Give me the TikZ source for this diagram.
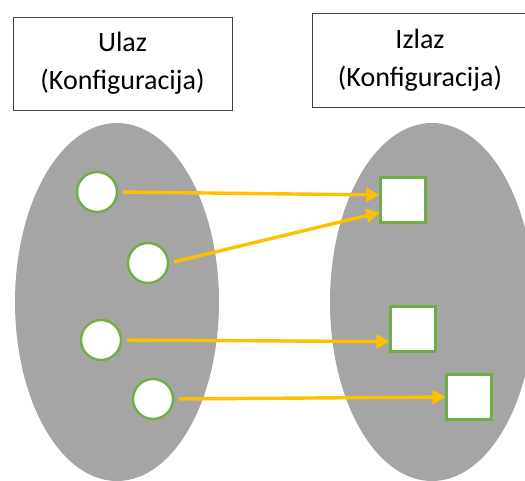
\documentclass[tikz,border=0pt]{standalone}
\usepackage{fontspec}
\setmainfont{Carlito}
\usetikzlibrary{arrows.meta}
\definecolor{siva}{RGB}{165,165,165}
\definecolor{zelena}{RGB}{112,173,71}
\definecolor{strelica}{RGB}{255,192,0}

\begin{document}
\begin{tikzpicture}[x=1pt, y=-1pt,
    okvir/.style={draw=black!75, thin, minimum width=219pt, minimum height=93pt, align=center, inner sep=0pt, font=\fontsize{28}{38}\selectfont},
    ulaz/.style={circle, draw=zelena, line width=2.4pt, fill=white, minimum size=40pt, inner sep=0pt},
    izlaz/.style={rectangle, draw=zelena, line width=2.4pt, fill=white, minimum size=45pt, inner sep=0pt},
    veza/.style={strelica, line width=3.4pt, shorten <=5pt, -{Triangle[length=13pt,width=14pt]}}]

    \useasboundingbox (0,0) rectangle (525,480);

    % skupovi
    \fill[siva] (117,302) ellipse (102 and 179);
    \fill[siva] (432,302) ellipse (102 and 179);

    \node[okvir] (ulazbox) at (122.5,63.5) {Ulaz\\(Konfiguracija)};
    \node[okvir, minimum width=216pt, minimum height=94pt] (izlazbox) at (420,60) {Izlaz\\(Konfiguracija)};

    \node[ulaz] (c1) at (97,192) {};
    \node[ulaz] (c2) at (148,263) {};
    \node[ulaz] (c3) at (101,340) {};
    \node[ulaz] (c4) at (153,399) {};

    \node[izlaz] (s1) at (403,200) {};
    \node[izlaz] (s2) at (413,329) {};
    \node[izlaz] (s3) at (469,397) {};

    \draw[veza] (c1.east) -- (s1.168);
    \draw[veza] (c2.east) -- (s1.208);
    \draw[veza] (c3.east) -- (s2.208);
    \draw[veza] (c4.east) -- (s3.west);

\end{tikzpicture}
\end{document}
